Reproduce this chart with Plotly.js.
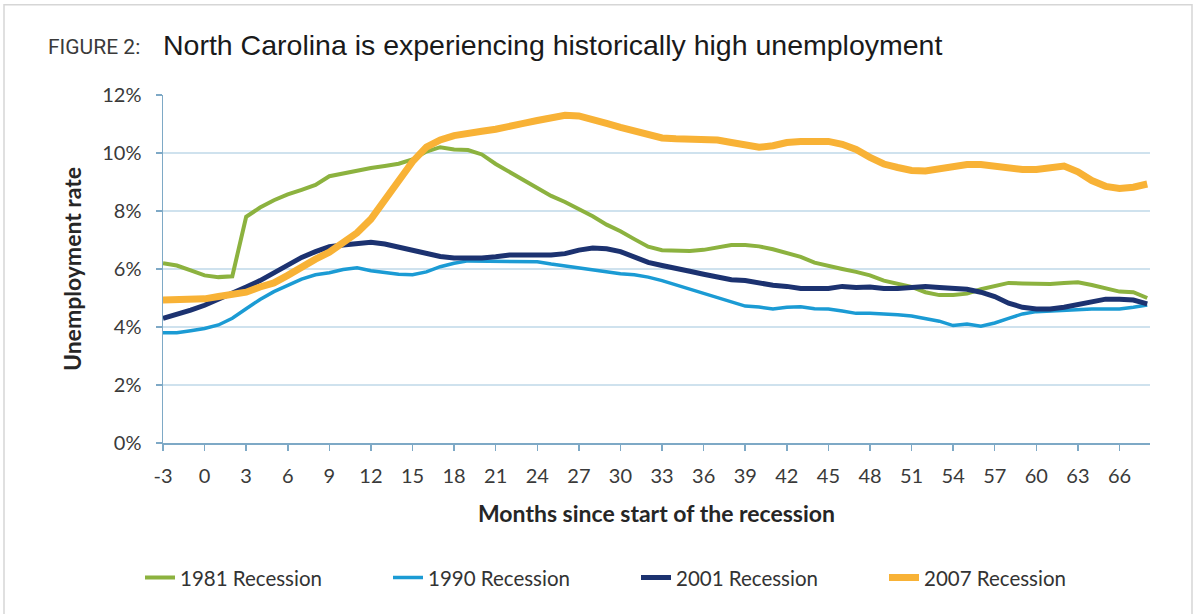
<!DOCTYPE html>
<html>
<head>
<meta charset="utf-8">
<script src="https://cdn.plot.ly/plotly-3.0.1.min.js"></script>
<style>
  html, body { margin: 0; padding: 0; background: #ffffff; }
  #chart { width: 1196px; height: 614px; }
</style>
</head>
<body>
<div id="chart"></div>
<script>
// Months since start of the recession
var months = [-3,-2,-1,0,1,2,3,4,5,6,7,8,9,10,11,12,13,14,15,16,17,18,19,20,21,22,23,24,25,26,27,28,29,30,31,32,33,34,35,36,37,38,39,40,41,42,43,44,45,46,47,48,49,50,51,52,53,54,55,56,57,58,59,60,61,62,63,64,65,66,67,68];

var rec1981 = [6.2,6.12,5.95,5.78,5.72,5.75,7.8,8.12,8.37,8.57,8.73,8.9,9.2,9.3,9.4,9.48,9.55,9.63,9.78,10.05,10.2,10.12,10.1,9.95,9.62,9.34,9.07,8.78,8.52,8.31,8.08,7.82,7.53,7.3,7.03,6.77,6.65,6.62,6.62,6.66,6.76,6.83,6.83,6.78,6.68,6.55,6.42,6.22,6.1,6.0,5.9,5.78,5.6,5.48,5.38,5.2,5.1,5.1,5.15,5.3,5.42,5.52,5.5,5.48,5.48,5.52,5.54,5.45,5.32,5.22,5.2,5.0];

var rec1990 = [3.8,3.8,3.87,3.95,4.07,4.3,4.63,4.95,5.22,5.45,5.65,5.8,5.87,5.98,6.04,5.94,5.87,5.82,5.8,5.9,6.08,6.2,6.28,6.28,6.26,6.25,6.25,6.25,6.17,6.1,6.05,5.97,5.92,5.84,5.8,5.72,5.6,5.45,5.3,5.15,5.02,4.85,4.72,4.69,4.62,4.68,4.7,4.63,4.62,4.55,4.47,4.47,4.46,4.42,4.38,4.3,4.2,4.05,4.1,4.03,4.14,4.3,4.45,4.53,4.55,4.6,4.62,4.62,4.62,4.62,4.68,4.76];

var rec2001 = [4.3,4.42,4.58,4.75,4.95,5.15,5.38,5.6,5.88,6.15,6.4,6.6,6.77,6.83,6.88,6.92,6.86,6.76,6.64,6.52,6.43,6.38,6.37,6.38,6.42,6.48,6.48,6.48,6.48,6.53,6.65,6.72,6.7,6.6,6.42,6.23,6.12,6.0,5.92,5.82,5.72,5.63,5.6,5.5,5.44,5.4,5.33,5.33,5.33,5.4,5.36,5.38,5.33,5.33,5.35,5.4,5.36,5.33,5.3,5.2,5.05,4.82,4.68,4.62,4.62,4.68,4.78,4.88,4.96,4.96,4.93,4.8];

var rec2007 = [4.93,4.93,4.93,4.97,5.05,5.12,5.2,5.38,5.52,5.78,6.08,6.34,6.58,6.88,7.25,7.72,8.4,9.0,9.7,10.2,10.45,10.6,10.7,10.75,10.82,10.95,11.02,11.12,11.22,11.3,11.28,11.18,11.02,10.88,10.75,10.62,10.52,10.49,10.49,10.49,10.45,10.36,10.25,10.2,10.25,10.36,10.4,10.42,10.4,10.3,10.12,9.85,9.62,9.5,9.4,9.38,9.45,9.58,9.6,9.6,9.55,9.45,9.43,9.43,9.5,9.55,9.35,9.05,8.85,8.78,8.82,8.93];

var seriesNames = ["1981 Recession", "1990 Recession", "2001 Recession", "2007 Recession"];
var xTickVals = [-3,0,3,6,9,12,15,18,21,24,27,30,33,36,39,42,45,48,51,54,57,60,63,66];
var xTickText = ["-3","0","3","6","9","12","15","18","21","24","27","30","33","36","39","42","45","48","51","54","57","60","63","66"];
var yTickVals = [0,2,4,6,8,10,12];
var yTickText = ["0%","2%","4%","6%","8%","10%","12%"];

var fontMain = "Lato, 'Open Sans', sans-serif";

var traces = [
  {x: months, y: rec1981, name: seriesNames[0], type: "scatter", mode: "lines",
   line: {color: "#8cb23f", width: 4}},
  {x: months, y: rec1990, name: seriesNames[1], type: "scatter", mode: "lines",
   line: {color: "#1b9bd4", width: 3.5}},
  {x: months, y: rec2001, name: seriesNames[2], type: "scatter", mode: "lines",
   line: {color: "#1c3270", width: 5}},
  {x: months, y: rec2007, name: seriesNames[3], type: "scatter", mode: "lines",
   line: {color: "#f8b236", width: 7}}
];

var layout = {
  width: 1196, height: 614,
  margin: {l: 163, r: 46, t: 95, b: 171, pad: 0},
  paper_bgcolor: "#ffffff",
  plot_bgcolor: "#ffffff",
  showlegend: true,
  title: {
    text: "North Carolina is experiencing historically high unemployment",
    font: {family: "'Liberation Sans', Arial, sans-serif", size: 28.5, color: "#1a1a1a"},
    xref: "container", x: 163/1196, xanchor: "left",
    yref: "container", y: 1 - 45/614, yanchor: "middle"
  },
  xaxis: {
    range: [-3, 68.2],
    tickmode: "array", tickvals: xTickVals, ticktext: xTickText,
    ticks: "outside", ticklen: 6, tickwidth: 1.5, tickcolor: "#7ea9c6",
    showline: true, linecolor: "#7ea9c6", linewidth: 1.5,
    showgrid: false, zeroline: false,
    ticklabelstandoff: 8,
    tickfont: {family: fontMain, size: 20, color: "#3a3a3a"},
    title: {text: "Months since start of the recession",
            font: {family: fontMain, size: 23, color: "#262626", weight: "bold"},
            standoff: 20}
  },
  yaxis: {
    range: [0, 12],
    tickmode: "array", tickvals: yTickVals, ticktext: yTickText,
    ticks: "outside", ticklen: 6, tickwidth: 1.5, tickcolor: "#7ea9c6",
    showline: true, linecolor: "#7ea9c6", linewidth: 1.5,
    showgrid: true, gridcolor: "#cfe2ee", gridwidth: 1.2,
    zeroline: false,
    ticklabelstandoff: 10,
    tickfont: {family: fontMain, size: 20, color: "#3a3a3a"},
    title: {text: "Unemployment rate",
            font: {family: fontMain, size: 23, color: "#262626", weight: "bold"},
            standoff: 14}
  },
  legend: {
    orientation: "h",
    x: (140 - 163) / 987, xanchor: "left",
    y: (443.3 - 578) / 348, yanchor: "middle",
    entrywidth: 203, entrywidthmode: "pixels",
    font: {family: fontMain, size: 20.5, color: "#333333"},
    bgcolor: "rgba(0,0,0,0)",
    traceorder: "normal"
  },
  annotations: [
    {text: "FIGURE 2:", xref: "paper", yref: "paper",
     x: (46 - 163) / 987, y: (443.3 - 47) / 348,
     xanchor: "left", yanchor: "middle", showarrow: false,
     font: {family: "Roboto, 'Liberation Sans', sans-serif", size: 21, color: "#3a3a3a"}}
  ],
  shapes: [
    {type: "rect", xref: "paper", yref: "paper",
     x0: (4 - 163) / 987, x1: (1192 - 163) / 987,
     y0: (443.3 - 640) / 348, y1: (443.3 - 5) / 348,
     line: {color: "#d6d6d6", width: 1.5}, fillcolor: "rgba(0,0,0,0)", layer: "below"}
  ]
};

Plotly.newPlot("chart", traces, layout, {displayModeBar: false, staticPlot: true});
</script>
</body>
</html>
